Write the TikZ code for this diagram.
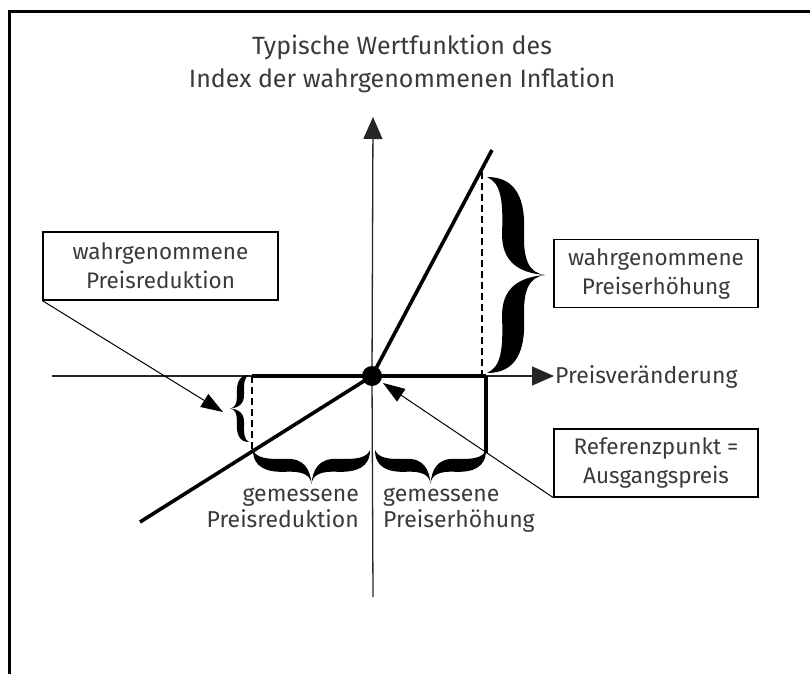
\documentclass[tikz,border=0pt]{standalone}
\usepackage{fontspec}
\setmainfont{Fira Sans}
\usetikzlibrary{arrows.meta}
\definecolor{txt}{HTML}{3A3A3A}
\newcommand{\bracearms}{%
  \fill (0,0) .. controls (0.52,0) and (0.66,0.12) .. (0.64,0.28)
        .. controls (0.62,0.42) and (0.72,0.49) .. (1,0.5)
        .. controls (0.58,0.49) and (0.24,0.44) .. (0.26,0.28)
        .. controls (0.28,0.12) and (0.24,0.03) .. (0,0) -- cycle;
  \fill (0,1) .. controls (0.52,1) and (0.66,0.88) .. (0.64,0.72)
        .. controls (0.62,0.58) and (0.72,0.51) .. (1,0.5)
        .. controls (0.58,0.51) and (0.24,0.56) .. (0.26,0.72)
        .. controls (0.28,0.88) and (0.24,0.97) .. (0,1) -- cycle;}
\tikzset{
  axis/.style={line width=1.3pt, black!85},
  axisarrow/.style={axis, -{Triangle[length=22pt,width=19pt]}},
  heavy/.style={line width=4.5pt, line cap=butt},
  medium/.style={line width=3.6pt},
  dashline/.style={line width=2.4pt, dash pattern=on 7pt off 4pt},
  ptr/.style={line width=1pt, -{Triangle[length=22pt,width=15pt]}},
  labelbox/.style={draw, line width=1.3pt, minimum width=#1, minimum height=68pt, align=center, text=txt, font=\fontsize{22.5}{29}\selectfont, inner sep=0pt},
  lbl/.style={text=txt, font=\fontsize{23}{26}\selectfont, inner sep=0pt},
}
\begin{document}
\begin{tikzpicture}[x=1pt,y=-1pt]
\useasboundingbox (0,0) rectangle (810,674);
% frame
\draw[line width=3pt] (9.5,674) -- (9.5,12) -- (810,12);
% title
\node[text=txt, font=\fontsize{25}{33}\selectfont, align=center, inner sep=0pt] (title) at (402,64)
  {Typische Wertfunktion des\\Index der wahrgenommenen Inflation};
% coordinates
\coordinate (O) at (372,376);
\coordinate (yb) at (373,597);
\coordinate (yt) at (373,117);
\coordinate (xl) at (52,376);
\coordinate (xr) at (554,376);
\coordinate (ll) at (140,522);
\coordinate (ur) at (492,150);
\coordinate (hl) at (252,376);
\coordinate (hr) at (486,376);
\coordinate (hrb) at (486,453);
\coordinate (dlb) at (252,450);
\coordinate (drt) at (482,172);
\coordinate (drb) at (482,376);
\coordinate (tipL) at (223,412);
\coordinate (tipR) at (383,383);
% axes
\draw[axis] (yb) -- (O);
\draw[axisarrow] (O) -- (yt);
\draw[axisarrow] (xl) -- (xr);
\node[lbl, anchor=west] (xlabel) at (555,377) {Preisveränderung};
% value function
\draw[medium] (ll) -- (O) -- (ur);
% dashed lines
\draw[dashline] (drt) -- (drb);
\draw[dashline] (hl) -- (dlb);
% heavy segments
\draw[heavy] (hl) -- (hr);
\draw[medium] (hr) -- (hrb);
% origin dot
\fill (O) circle (10pt);
% braces
\begin{scope}[shift={(487,177)}, cm={58,0,0,196,(0,0)}] \bracearms \end{scope}
\begin{scope}[shift={(249,375)}, cm={-19,0,0,67,(0,0)}] \bracearms \end{scope}
\begin{scope}[shift={(253,450)}, cm={0,-34,-117,0,(0,0)}] \bracearms \end{scope}
\begin{scope}[shift={(375,450)}, cm={0,-34,-111,0,(0,0)}] \bracearms \end{scope}
% bottom labels
\node[lbl, anchor=north east, align=right] (gl) at (359,488) {gemessene\\Preisreduktion};
\node[lbl, anchor=north west, align=left] (gr) at (383,488) {gemessene\\Preiserhöhung};
% boxes
\node[labelbox=235pt] (b1) at (160.5,266) {wahrgenommene\\Preisreduktion};
\node[labelbox=204pt] (b2) at (656,273.5) {wahrgenommene\\Preiserhöhung};
\node[labelbox=204pt] (b3) at (656,463) {Referenzpunkt =\\Ausgangspreis};
% pointers
\draw[ptr] (b1.south west) -- (tipL);
\draw[ptr] (b3.south west) -- (tipR);
\end{tikzpicture}
\end{document}
